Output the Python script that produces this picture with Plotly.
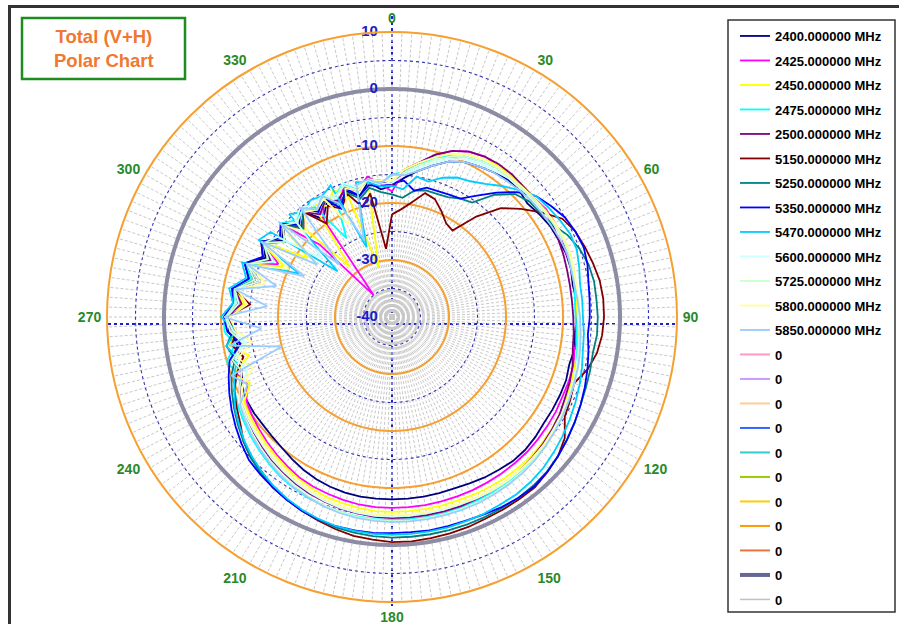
import numpy as np
import plotly.graph_objects as go

W, H = 899, 624

# ---------------- data (dB, every 5 degrees, 0..355) ----------------
angles = list(range(0, 360, 5))

series_names = ["2400.000000 MHz", "2425.000000 MHz", "2450.000000 MHz", "2475.000000 MHz",
                "2500.000000 MHz", "5150.000000 MHz", "5250.000000 MHz", "5350.000000 MHz",
                "5470.000000 MHz", "5600.000000 MHz", "5725.000000 MHz", "5800.000000 MHz",
                "5850.000000 MHz"]
series_colors = ["#000080", "#FF00FF", "#FFFF00", "#00FFFF", "#800080", "#800000", "#008080",
                 "#0000FF", "#00CCFF", "#CCFFFF", "#CCFFCC", "#FFFF99", "#99CCFF"]

s2400 = [-17, -15.5, -14, -12.5, -11, -10, -9.5, -9, -8.5, -8.5, -9, -8.5,
         -8, -7.8, -7.5, -7.5, -7.8, -7.5, -7.5, -7.8, -7.5, -7.8, -7.5, -7.5,
         -7.5, -7.5, -7.2, -7, -7, -7.3, -7.5, -7.8, -8, -8, -8, -8,
         -8, -8, -8, -8.1, -8.3, -8.6, -9, -9.5, -10, -10.3, -10.5, -10.5,
         -10.6, -11, -12, -11, -12.5, -11.2, -11.5, -13, -12, -14, -12.5, -15.5,
         -14, -16.5, -15, -17.5, -16, -19, -17, -18.5, -16.5, -18, -16, -17.5]
s2425 = [-18, -14, -12.5, -10.5, -9, -8, -7.5, -7.5, -7.5, -7.5, -7.5, -7,
         -7, -7, -7.5, -7, -7.5, -7.5, -7.5, -7, -7.5, -7, -7, -7,
         -6.8, -6.7, -6.6, -6.5, -6.5, -6.5, -6.5, -6.5, -6.5, -6.5, -6.5, -6.5,
         -6.5, -6.5, -6.6, -6.8, -7, -7.2, -7.5, -8, -8.5, -9, -9.5, -10,
         -10.5, -12, -11, -13, -11.5, -12, -11, -13, -12, -15, -13, -18,
         -14, -17, -15, -22, -35, -19, -16, -18, -15.5, -17, -15, -16.5]
s2450 = [-16, -14, -12.5, -11, -9.5, -8.5, -8, -7.5, -7.5, -7.5, -7.5, -7.2,
         -7, -7, -7, -7.3, -7.5, -7.5, -7.5, -7.2, -7, -6.8, -6.5, -6.3,
         -6, -5.8, -5.6, -5.5, -5.5, -5.5, -5.6, -5.7, -5.8, -5.8, -5.8, -5.8,
         -5.8, -5.8, -6, -6.2, -6.4, -6.8, -7.2, -7.7, -8.2, -8.7, -9.2, -9.6,
         -10, -12.5, -10.5, -14, -11, -12.5, -10.8, -14, -12, -16, -13, -19,
         -13.5, -22, -15, -17, -28.5, -16, -17.5, -15.5, -17, -31, -15.5, -16]
s2475 = [-15, -14.5, -13, -11, -10, -9, -8.5, -8, -8, -7.8, -7.5, -7.3,
         -7.2, -7, -7, -7.2, -7.5, -7.8, -7.8, -7.5, -7, -6.5, -6, -5.8,
         -5.5, -5.2, -5, -4.8, -4.7, -4.6, -4.5, -4.5, -4.5, -4.4, -4.4, -4.4,
         -4.4, -4.4, -4.5, -4.6, -4.8, -5, -5.4, -5.8, -6.4, -7, -7.6, -8.2,
         -8.8, -9.5, -11, -10, -12, -10.5, -10.5, -12.5, -11.5, -14.5, -12.5, -17,
         -13.5, -16, -14.5, -16, -15.5, -16.5, -24, -16.5, -15, -17, -15.5, -16.5]
s2500 = [-17, -14, -12.5, -10.5, -9, -8, -7.5, -7.3, -7.3, -7.5, -7.5, -7.3,
         -7.5, -7.8, -8, -8.2, -8.3, -8.3, -8.2, -8, -7.8, -7.2, -6.8, -6.5,
         -6, -5.7, -5.4, -5.2, -5, -4.9, -4.8, -4.8, -4.7, -4.7, -4.7, -4.7,
         -4.7, -4.8, -5, -5.2, -5.5, -5.8, -6.2, -6.7, -7.2, -7.8, -8.4, -9,
         -9.6, -10.5, -12, -11, -13, -11.5, -11, -13.5, -12, -15, -13, -16.5,
         -14, -17, -15, -17.5, -16, -18, -16.5, -17.5, -16, -17, -15.5, -16]
s5150 = [-22, -21, -19.5, -17.5, -18, -19.5, -21, -21.5, -17, -13, -10.5, -8,
         -5.5, -4.5, -4, -3.5, -3, -2.8, -2.8, -3, -3.5, -4.5, -6, -5.5,
         -5, -3, -2, -1.5, -1, -1, -1, -1, -0.8, -0.7, -0.6, -0.5,
         -0.5, -0.8, -1, -1.5, -2, -2.5, -3, -3.5, -4.5, -5, -6, -7.5,
         -8.5, -9.5, -11, -13, -11.5, -12.5, -11, -15, -12, -16, -13, -15,
         -13.5, -17, -15, -18, -16, -20, -17.5, -19, -17, -20, -18, -28]
s5250 = [-18.5, -19, -17.5, -17, -17, -16.8, -16, -15.5, -12, -9.5, -8.5, -8.2,
         -7.5, -6, -5, -4.3, -4, -4, -3.9, -3.9, -4.2, -4, -3.8, -3.5,
         -3, -2.5, -2, -1.6, -1.4, -1.3, -1.3, -1.3, -1.3, -1.3, -1.3, -1.3,
         -1.3, -1.4, -1.6, -1.8, -2.2, -2.6, -3, -3.6, -4.2, -5, -6, -7,
         -8, -9, -10, -11.5, -10.5, -12, -10.8, -13, -11.8, -15, -13, -16,
         -14, -17, -15, -18, -15.5, -17, -16.5, -18, -16.8, -18.5, -17, -18]
s5350 = [-16.5, -16, -17.5, -16.5, -16.5, -16.3, -16, -14, -11.5, -9, -7, -6,
         -5, -4.5, -4.2, -4.5, -5, -5.2, -5.3, -5.5, -5, -4.5, -4, -3.5,
         -3, -2.5, -2, -1.5, -1.2, -1.3, -1.5, -1.8, -2, -2, -2, -2.1,
         -2.1, -2, -2, -2, -2.2, -2.5, -3, -3.5, -4, -4.5, -5.5, -6.5,
         -7.5, -8.5, -9.5, -10.5, -13, -11, -10.5, -12, -11.5, -14, -12.5, -15,
         -13.5, -16, -14.5, -17, -15, -17.5, -16, -19, -16, -18, -16.5, -17]
s5470 = [-17, -17.5, -15, -15.4, -14, -13, -12.5, -11.5, -10, -8.5, -7, -6.5,
         -6, -5.5, -5.5, -6, -6.5, -6.5, -6.5, -6.2, -6, -5.5, -5, -4.5,
         -4, -3.5, -3, -2.5, -2.2, -2, -2, -1.9, -1.9, -1.8, -1.8, -1.8,
         -1.8, -1.8, -1.9, -2, -2.3, -2.7, -3.2, -3.8, -4.5, -5.3, -6.2, -7.2,
         -8.2, -9.5, -10.5, -12, -10.5, -12.5, -10, -12, -11, -13.5, -12, -22,
         -13, -14, -27.5, -14.5, -16, -15, -15.5, -14.5, -27, -15.5, -16, -17]
s5600 = [-16.5, -15, -13.5, -12, -10.5, -9.5, -9, -8.5, -8.2, -8, -7.8, -7.5,
         -7.3, -7, -6.8, -7, -7.2, -7.3, -7.3, -7, -6.8, -6.5, -6.2, -6,
         -5.7, -5.5, -5.2, -5, -4.9, -4.8, -4.8, -4.9, -5, -5, -5, -5,
         -5, -5, -5.1, -5.3, -5.6, -6, -6.4, -6.9, -7.4, -8, -8.5, -9,
         -9.5, -11, -13, -11.5, -14, -12, -11, -13, -12, -16, -13, -17,
         -14, -15.5, -24, -16, -15, -16, -15.5, -17, -15, -16.5, -15.5, -16.5]
s5725 = [-16, -14.5, -13, -11.5, -10, -9, -8.5, -8, -8, -8, -7.8, -7.5,
         -7.2, -7, -7, -7.2, -7.3, -7.2, -7, -6.8, -6.5, -6.2, -6, -5.8,
         -5.5, -5.2, -5, -4.7, -4.5, -4.4, -4.3, -4.2, -4.2, -4.2, -4.2, -4.2,
         -4.2, -4.3, -4.4, -4.6, -4.9, -5.3, -5.8, -6.3, -6.8, -7.4, -8, -8.6,
         -9.2, -10.5, -12, -11, -13.5, -11.5, -10.8, -12.5, -12, -15, -13, -16,
         -14, -17, -15, -16.5, -15.5, -17, -16, -16.5, -15.5, -17, -15.5, -16]
s5800 = [-16, -14, -12.5, -11, -9.5, -8.5, -8, -7.8, -7.8, -7.7, -7.5, -7.3,
         -7, -6.8, -6.8, -7, -7.2, -7.2, -7, -6.8, -6.5, -6.3, -6, -5.8,
         -5.5, -5.3, -5.2, -5.1, -5, -5, -5, -5.1, -5.2, -5.3, -5.3, -5.3,
         -5.3, -5.3, -5.4, -5.6, -5.9, -6.3, -6.7, -7.2, -7.7, -8.3, -8.8, -9.3,
         -9.8, -11, -14, -12, -15, -12.5, -11.5, -14.5, -12.5, -17, -13.5, -20,
         -14, -24, -15, -19, -16, -17, -16, -22, -16, -17, -15.5, -16]
s5850 = [-15, -15, -14, -12.5, -11, -10, -9.5, -9, -8.8, -8.5, -8.2, -8,
         -7.8, -7.5, -7.3, -7.5, -7.5, -7.3, -7, -6.8, -6.5, -6.2, -6, -5.7,
         -5.4, -5.1, -4.8, -4.5, -4.3, -4.2, -4.1, -4, -4, -4, -4, -4,
         -4, -4.1, -4.2, -4.4, -4.7, -5.1, -5.5, -6, -6.6, -7.2, -7.8, -8.5,
         -9.2, -12, -10, -20, -11, -17, -10.5, -18, -12, -19, -13, -23,
         -13.5, -24, -14, -27, -15, -17, -15.5, -18, -25.5, -16, -15.5, -16.5]

series_values = [s2400, s2425, s2450, s2475, s2500, s5150, s5250, s5350,
                 s5470, s5600, s5725, s5800, s5850]

# extra legend entries (unused series in the source chart)
extra_legend_colors = ["#FF99CC", "#CC99FF", "#FFCC99", "#3366FF", "#33CCCC", "#99CC00",
                       "#FFCC00", "#FF9900", "#E8743B", "#666699", "#C0C0C0"]
extra_legend_widths = [2, 2, 2, 2, 2, 2, 2, 2, 2, 4, 1.5]
extra_legend_name = "0"

# grid definitions
orange_rings = [-30, -20, -10]
blue_dot_rings = [-35, -25, -15, -5, 5]
zero_ring = [0]
grid_angles = list(range(0, 360, 2))
label_every = 30
radial_ticks = [-40, -30, -20, -10, 0, 10]
radial_label_angle = 0
r_range = [-40, 10]


def px(x):
    return x / W


def py(y):
    return 1 - y / H


def ring_trace(levels, color, width, dash):
    th, rr = [], []
    circ = list(np.linspace(0, 360, 361))
    for lv in levels:
        th += circ + [None]
        rr += [lv] * len(circ) + [None]
    return go.Scatterpolar(r=rr, theta=th, mode="lines", showlegend=False, hoverinfo="skip",
                           line=dict(color=color, width=width, dash=dash))


fig = go.Figure()
fig.add_trace(ring_trace(blue_dot_rings, "#3535B5", 1.1, "dot"))
fig.add_trace(ring_trace(orange_rings, "#F5A030", 2, "solid"))
fig.add_trace(ring_trace(zero_ring, "#8C8CA4", 4, "solid"))

rank = 1
for name, col, vals in zip(series_names, series_colors, series_values):
    fig.add_trace(go.Scatterpolar(
        r=vals + [vals[0]], theta=angles + [360], mode="lines", name=name,
        line=dict(color=col, width=1.8), legendgroup="g%d" % rank, legendrank=rank))
    rank += 1

for col, wd in zip(extra_legend_colors, extra_legend_widths):
    fig.add_trace(go.Scatterpolar(
        r=[None], theta=[None], mode="lines", name=extra_legend_name,
        line=dict(color=col, width=wd), legendgroup="g%d" % rank, legendrank=rank))
    rank += 1

# radial value labels on the 0-degree spoke, placed through the polar scale;
# an invisible marker keeps the text a little to the left of the axis line
fig.add_trace(go.Scatterpolar(
    r=radial_ticks, theta=[radial_label_angle] * len(radial_ticks), mode="markers+text",
    marker=dict(size=21, color="rgba(0,0,0,0)"),
    text=[str(v) for v in radial_ticks], textposition="middle left",
    textfont=dict(color="#1C1CC8", size=15, weight="bold"),
    cliponaxis=False, showlegend=False, hoverinfo="skip"))

ticktext = [str(a) if a % label_every == 0 else "" for a in grid_angles]

fig.update_layout(
    width=W, height=H,
    margin=dict(l=0, r=0, t=0, b=0),
    paper_bgcolor="white",
    font=dict(family="Liberation Sans, Arial, sans-serif"),
    polar=dict(
        domain=dict(x=[px(107), px(677)], y=[py(602), py(32)]),
        bgcolor="rgba(0,0,0,0)",
        angularaxis=dict(
            rotation=90, direction="clockwise",
            tickmode="array", tickvals=grid_angles, ticktext=ticktext,
            showgrid=True, gridcolor="#C8C8C8", gridwidth=0.7, griddash="3px,2px",
            showline=True, linecolor="#F5A030", linewidth=2,
            ticks="outside", ticklen=2, tickcolor="rgba(0,0,0,0)",
            tickfont=dict(color="#2A8A2A", size=14, weight="bold"),
        ),
        radialaxis=dict(
            range=r_range, tickmode="array", tickvals=radial_ticks,
            showgrid=False, showline=False, ticks="", showticklabels=False,
            angle=90,
        ),
    ),
    legend=dict(
        x=px(735), y=py(21), xanchor="left", yanchor="top",
        borderwidth=0, bgcolor="rgba(0,0,0,0)",
        font=dict(size=13, color="black", weight="bold"),
        traceorder="grouped", tracegroupgap=4.6, itemwidth=30,
    ),
    showlegend=True,
)

# legend frame
fig.add_shape(type="rect", xref="paper", yref="paper", x0=px(728), x1=px(895), y0=py(612), y1=py(20),
              line=dict(color="#333333", width=1.5), fillcolor="white", layer="below")
# axis cross lines
fig.add_shape(type="line", xref="paper", yref="paper", x0=px(392), x1=px(392), y0=py(16), y1=py(606),
              line=dict(color="#1E1ECC", width=2, dash="dot"), layer="below")
fig.add_shape(type="line", xref="paper", yref="paper", x0=px(108), x1=px(678), y0=py(324), y1=py(324),
              line=dict(color="#1E1ECC", width=2, dash="dot"), layer="below")
# title box
fig.add_shape(type="rect", xref="paper", yref="paper", x0=px(22), x1=px(185), y0=py(79), y1=py(18),
              line=dict(color="#1E8C1E", width=2.5), fillcolor="white")
fig.add_annotation(xref="paper", yref="paper", x=px(103.5), y=py(49), showarrow=False,
                   xanchor="center", yanchor="middle",
                   text="Total (V+H)<br>Polar Chart", align="center",
                   font=dict(size=18.5, color="#F07830", weight="bold"))
# outer frame (top and left edges)
fig.add_shape(type="line", xref="paper", yref="paper", x0=px(8), x1=px(899), y0=py(6.5), y1=py(6.5),
              line=dict(color="#333333", width=3))
fig.add_shape(type="line", xref="paper", yref="paper", x0=px(9.5), x1=px(9.5), y0=py(5), y1=py(624),
              line=dict(color="#333333", width=3))

fig.write_html("out.html")
